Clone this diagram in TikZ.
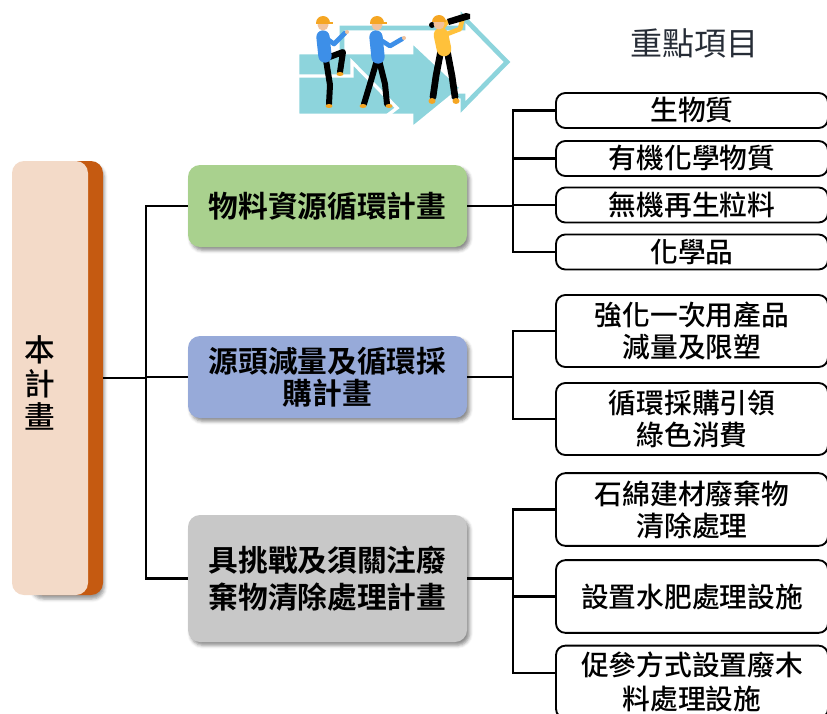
\documentclass[tikz,border=0pt]{standalone}
\usepackage{fontspec}
\newfontfamily\cjk{Noto Sans CJK TC}[UprightFont={* Medium}, BoldFont={* Bold}]
\newfontfamily\cjklight{Noto Sans CJK TC}
\usetikzlibrary{shadows.blur}
\definecolor{peach}{HTML}{F3DAC8}
\definecolor{rust}{HTML}{C55A11}
\definecolor{leaf}{HTML}{A9D18E}
\definecolor{periwinkle}{HTML}{97AAD9}
\definecolor{ash}{HTML}{C8C8C8}
\definecolor{teal}{HTML}{8DD4DC}
\definecolor{ink}{HTML}{262C36}
\definecolor{hat}{HTML}{F5A623}
\definecolor{skin}{HTML}{F2C29B}
\definecolor{shirt}{HTML}{3D8FE8}
\definecolor{sun}{HTML}{FFC13B}
\tikzset{
  x=0.75pt, y=-0.75pt,
  link/.style={line width=1.9pt, black},
  planbox/.style={rounded corners=9pt, minimum width=209.25pt, minimum height=61.5pt,
    align=center, font=\cjk\bfseries\fontsize{22.3}{24}\selectfont,
    blur shadow={shadow xshift=2pt, shadow yshift=-2.5pt, shadow blur radius=2.5pt, shadow opacity=45}},
  itembox/.style={draw=black, line width=1.4pt, rounded corners=7pt, fill=white,
    minimum width=204pt, align=center, font=\cjk\fontsize{20.8}{24}\selectfont},
  limb/.style={line cap=round, line join=round},
}
\begin{document}
\begin{tikzpicture}
\useasboundingbox (0,0) rectangle (827,713);
\clip (0,0) rectangle (827,713);

% ---- arrows behind the three walkers
\draw[teal, line width=3.5pt, fill=white, line join=miter]
  (342,28) -- (463,28) -- (463,17) -- (507,62) -- (463,107) -- (463,96) -- (342,96) -- cycle;
\fill[teal, draw=white, line width=2pt]
  (298,53) -- (412,53) -- (412,42) -- (461,88) -- (412,128) -- (412,115) -- (298,115) -- cycle;
\draw[white, line width=2.5pt] (298,76) -- (352,76) -- (352,62) -- (397,108) -- (384,118);

% walker 1
\draw[limb, black, line width=4.5pt] (326,60) -- (330,85) -- (329,104);
\draw[limb, black, line width=4.5pt] (327,58) -- (343,52) -- (340,72);
\fill[hat] (329,106) ellipse [x radius=3.5, y radius=2];
\fill[hat] (340,74) ellipse [x radius=3.5, y radius=2];
\draw[limb, shirt, line width=10pt] (323,37) -- (325,56);
\draw[limb, shirt, line width=3.5pt] (326,38) -- (334,44) -- (345,33);
\fill[skin] (347,32) circle [radius=2];
\fill[skin] (323,25) circle [radius=5.5];
\fill[hat] (316,23) arc[start angle=180, end angle=360, radius=7] -- cycle;
\draw[hat, line width=1.5pt] (316,23) -- (333,23);

% walker 2
\draw[limb, black, line width=4.5pt] (377,60) -- (370,84) -- (364,104);
\draw[limb, black, line width=4.5pt] (379,60) -- (385,84) -- (387,104);
\fill[hat] (363,106) ellipse [x radius=3.5, y radius=2];
\fill[hat] (389,106) ellipse [x radius=3.5, y radius=2];
\draw[limb, shirt, line width=10pt] (376,37) -- (378,57);
\draw[limb, shirt, line width=3.5pt] (379,39) -- (390,46) -- (402,39);
\fill[skin] (404,38) circle [radius=2];
\fill[skin] (377,25) circle [radius=5.5];
\fill[hat] (370,23) arc[start angle=180, end angle=360, radius=7] -- cycle;
\draw[hat, line width=1.5pt] (370,23) -- (387,23);

% walker 3 with spyglass
\draw[limb, black, line width=5pt] (441,50) -- (436,76) -- (433,97);
\draw[limb, black, line width=5pt] (447,50) -- (452,76) -- (455,97);
\fill[hat] (432,101) ellipse [x radius=3.5, y radius=3];
\fill[hat] (456,101) ellipse [x radius=3.5, y radius=3];
\draw[limb, sun, line width=11pt] (441,35) -- (444,49);
\draw[limb, sun, line width=3.5pt] (438,33) -- (447,22);
\draw[limb, sun, line width=3.5pt] (447,34) -- (460,29) -- (463,17);
\fill[black] (447,19) -- (466,13) -- (470,14) -- (470,19) -- (449,25) -- cycle;
\fill[black] (432,25) circle [radius=3];
\fill[skin] (439,24) circle [radius=5.5];
\fill[hat] (432,22) arc[start angle=180, end angle=360, radius=7] -- cycle;

% ---- heading
\node[font=\cjklight\fontsize{24}{26}\selectfont, text=ink] (head) at (694,43) {重點項目};

% ---- main plan column
\node[fill=rust, rounded corners=9pt, minimum width=54.75pt, minimum height=325.5pt,
  blur shadow={shadow xshift=1pt, shadow yshift=-3pt, shadow blur radius=2.5pt, shadow opacity=40}]
  (plan) at (66.5,378) {};
\node[fill=peach, rounded corners=9pt, minimum width=57pt, minimum height=325.5pt] (planface) at (50,378) {};
\node[font=\cjk\fontsize{23}{25}\selectfont, align=center] (plantext) at (40,383) {本\\計\\畫};

% ---- sub-plans
\node[planbox, fill=leaf] (m1) at (327.5,206) {物料資源循環計畫};
\node[planbox, fill=periwinkle] (m2) at (327.5,377) {源頭減量及循環採\\購計畫};
\node[planbox, fill=ash, minimum height=95.25pt, font=\cjk\bfseries\fontsize{22.3}{28}\selectfont]
  (m3) at (327.5,578.5) {具挑戰及須關注廢\\棄物清除處理計畫};

% ---- key items
\node[itembox, minimum height=26.25pt] (a) at (692,110.5) {生物質};
\node[itembox, minimum height=26.25pt] (b) at (692,158.5) {有機化學物質};
\node[itembox, minimum height=26.25pt] (c) at (692,205) {無機再生粒料};
\node[itembox, minimum height=26.25pt] (d) at (692,252) {化學品};
\node[itembox, minimum height=54pt] (e) at (692,331) {強化一次用產品\\減量及限塑};
\node[itembox, minimum height=54pt] (f) at (692,419) {循環採購引領\\綠色消費};
\node[itembox, minimum height=54.5pt] (g) at (692,509.5) {石綿建材廢棄物\\清除處理};
\node[itembox, minimum height=54.5pt] (h) at (692,596.5) {設置水肥處理設施};
\node[itembox, minimum height=54.5pt, font=\cjk\fontsize{20.8}{26}\selectfont] (i) at (692,682) {促參方式設置廢木\\料處理設施};

% ---- connectors
\coordinate (lx) at (146,0);
\coordinate (rx) at (513,0);
\coordinate (ib) at (556,673);
\draw[link] (m1.west) -- (m1.west -| lx) -- (m3.west -| lx) -- (m3.west);
\draw[link] (plan.east) -- (plan.east -| lx);
\draw[link] (m2.west) -- (m2.west -| lx);

\draw[link] (m1.east) -- (m1.east -| rx);
\draw[link] (a.west) -- (a.west -| rx) -- (d.west -| rx) -- (d.west);
\draw[link] (b.west) -- (b.west -| rx);
\draw[link] (c.west) -- (c.west -| rx);

\draw[link] (m2.east) -- (m2.east -| rx);
\draw[link] (e.west) -- (e.west -| rx) -- (f.west -| rx) -- (f.west);

\draw[link] (m3.east) -- (m3.east -| rx);
\draw[link] (g.west) -- (g.west -| rx) -- (ib -| rx) -- (ib);
\draw[link] (h.west) -- (h.west -| rx);
\end{tikzpicture}
\end{document}
